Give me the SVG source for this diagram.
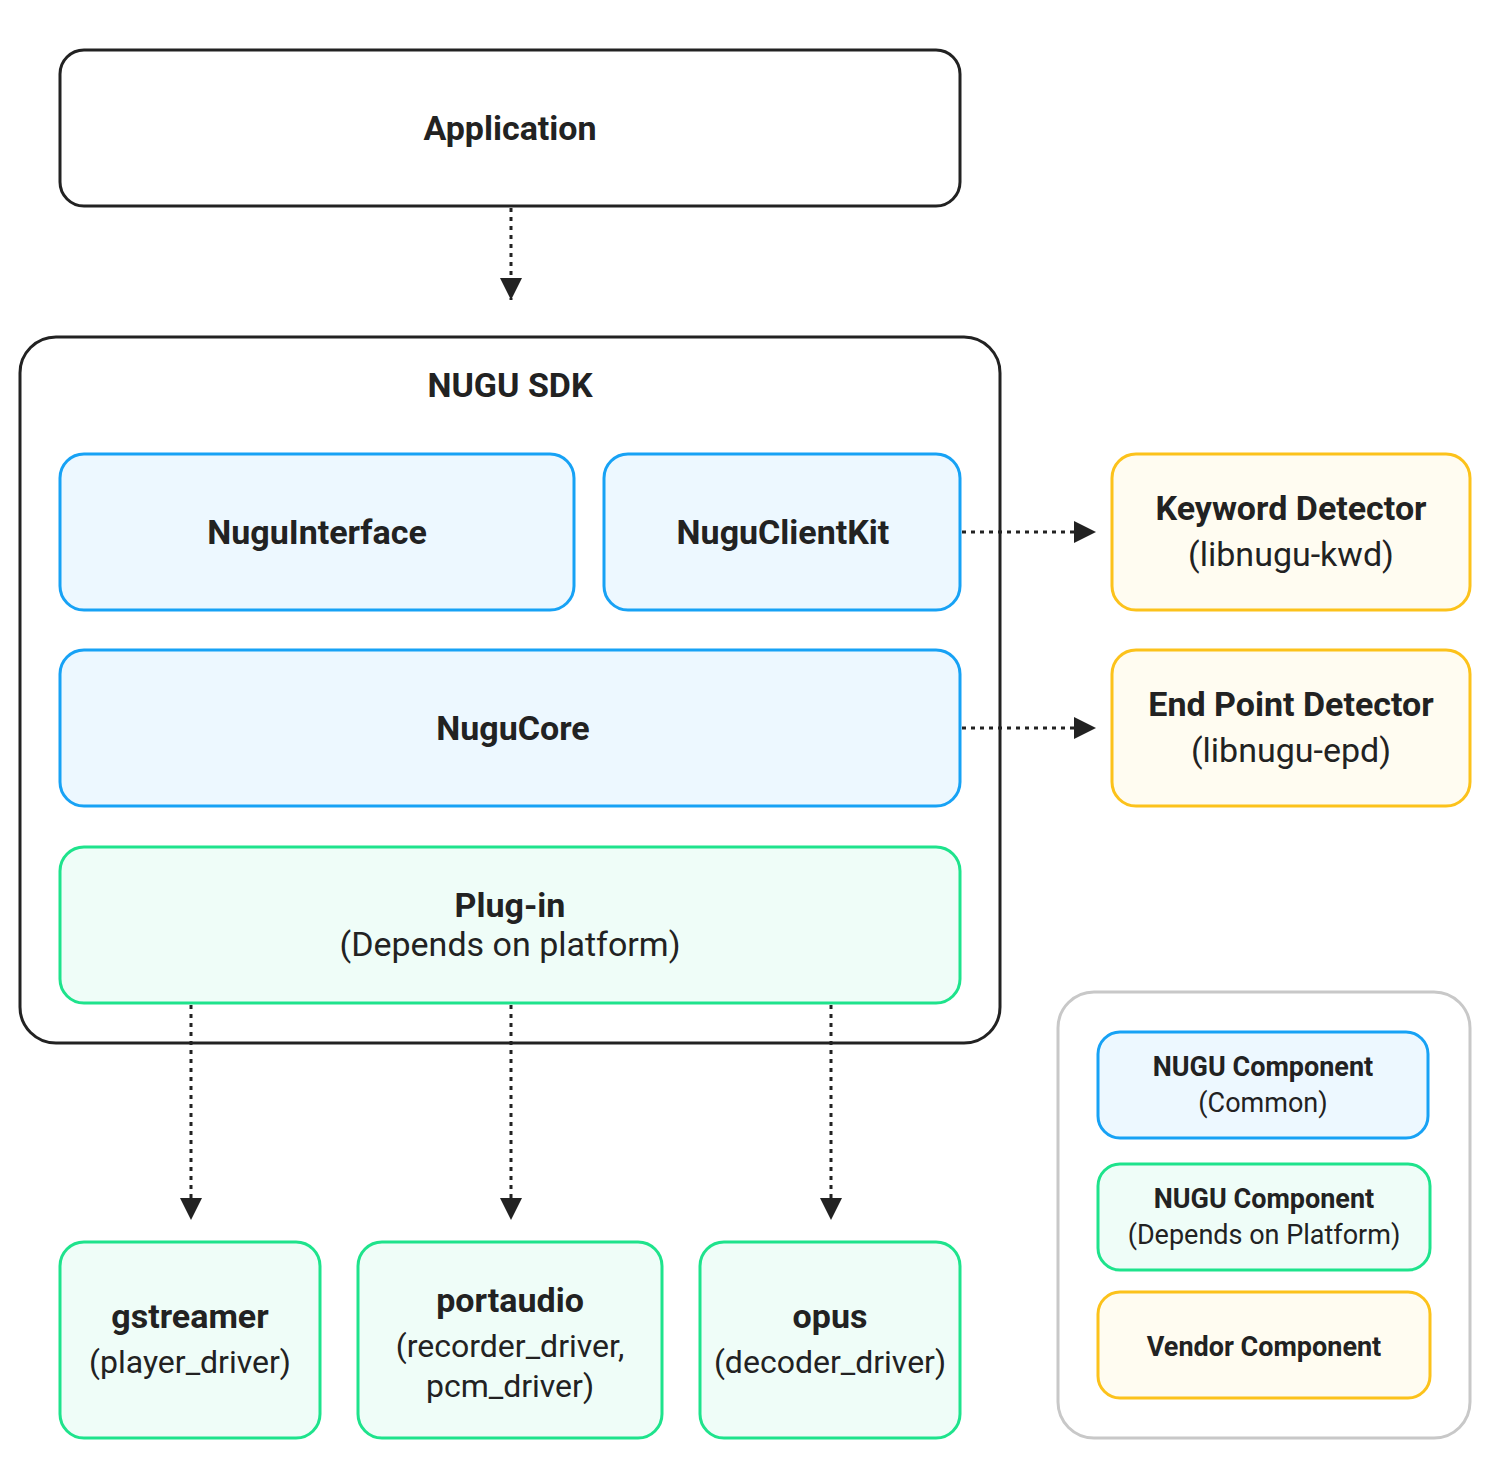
<svg xmlns="http://www.w3.org/2000/svg" width="1500" height="1468" viewBox="0 0 1500 1468">
<style>
text{font-family:Roboto,"Liberation Sans",sans-serif;fill:#222;text-anchor:middle}
.b{font-weight:bold;font-size:34px}
.r{font-size:34px}
.rs{font-size:32px}
.lb{font-weight:bold;font-size:27px}
.lr{font-size:27px}
.plain{fill:#fff;stroke:#222;stroke-width:3}
.blue{fill:#edf8ff;stroke:#17a2f5;stroke-width:3}
.green{fill:#effdf8;stroke:#1ee38c;stroke-width:3}
.yellow{fill:#fffcf1;stroke:#fcc21b;stroke-width:3}
.conn{stroke:#222;stroke-width:3;stroke-dasharray:4 5;fill:none}
</style>
<defs>
<marker id="ah" viewBox="0 0 10 10" refX="10" refY="5" markerWidth="22" markerHeight="22" markerUnits="userSpaceOnUse" orient="auto">
<path d="M0,0 L10,5 L0,10 Z" fill="#222"/>
</marker>
</defs>
<rect width="1500" height="1468" fill="#fff"/>
<g id="sdk">
<rect class="plain" x="20" y="337" width="980" height="706" rx="36"/>
<text class="b" x="510" y="397">NUGU SDK</text>
</g>
<g id="application">
<rect class="plain" x="60" y="50" width="900" height="156" rx="24"/>
<text class="b" x="510" y="140">Application</text>
</g>
<g id="nuguinterface">
<rect class="blue" x="60" y="454" width="514" height="156" rx="24"/>
<text class="b" x="317" y="544">NuguInterface</text>
</g>
<g id="nuguclientkit">
<rect class="blue" x="604" y="454" width="356" height="156" rx="24"/>
<text class="b" x="783" y="544">NuguClientKit</text>
</g>
<g id="nugucore">
<rect class="blue" x="60" y="650" width="900" height="156" rx="24"/>
<text class="b" x="513" y="740">NuguCore</text>
</g>
<g id="plugin">
<rect class="green" x="60" y="847" width="900" height="156" rx="24"/>
<text class="b" x="510" y="917">Plug-in</text>
<text class="r" x="510" y="956">(Depends on platform)</text>
</g>
<g id="kwd">
<rect class="yellow" x="1112" y="454" width="358" height="156" rx="24"/>
<text class="b" x="1291" y="520">Keyword Detector</text>
<text class="r" x="1291" y="566">(libnugu-kwd)</text>
</g>
<g id="epd">
<rect class="yellow" x="1112" y="650" width="358" height="156" rx="24"/>
<text class="b" x="1291" y="716">End Point Detector</text>
<text class="r" x="1291" y="762">(libnugu-epd)</text>
</g>
<g id="gstreamer">
<rect class="green" x="60" y="1242" width="260" height="196" rx="24"/>
<text class="b" x="190" y="1328">gstreamer</text>
<text class="rs" x="190" y="1373">(player_driver)</text>
</g>
<g id="portaudio">
<rect class="green" x="358" y="1242" width="304" height="196" rx="24"/>
<text class="b" x="510" y="1312">portaudio</text>
<text class="rs" x="510" y="1357">(recorder_driver,</text>
<text class="rs" x="510" y="1397">pcm_driver)</text>
</g>
<g id="opus">
<rect class="green" x="700" y="1242" width="260" height="196" rx="24"/>
<text class="b" x="830" y="1328">opus</text>
<text class="rs" x="830" y="1373">(decoder_driver)</text>
</g>
<g id="legend">
<rect x="1058" y="992" width="412" height="446" rx="36" fill="#fff" stroke="#c8c8c8" stroke-width="3"/>
<rect class="blue" x="1098" y="1032" width="330" height="106" rx="22"/>
<text class="lb" x="1263" y="1076">NUGU Component</text>
<text class="lr" x="1263" y="1112">(Common)</text>
<rect class="green" x="1098" y="1164" width="332" height="106" rx="22"/>
<text class="lb" x="1264" y="1208">NUGU Component</text>
<text class="lr" x="1264" y="1244">(Depends on Platform)</text>
<rect class="yellow" x="1098" y="1292" width="332" height="106" rx="22"/>
<text class="lb" x="1264" y="1356">Vendor Component</text>
</g>
<g id="connectors">
<line class="conn" x1="511" y1="208" x2="511" y2="300" marker-end="url(#ah)"/>
<line class="conn" x1="962" y1="532" x2="1096" y2="532" marker-end="url(#ah)"/>
<line class="conn" x1="962" y1="728" x2="1096" y2="728" marker-end="url(#ah)"/>
<line class="conn" x1="191" y1="1005" x2="191" y2="1220" marker-end="url(#ah)"/>
<line class="conn" x1="511" y1="1005" x2="511" y2="1220" marker-end="url(#ah)"/>
<line class="conn" x1="831" y1="1005" x2="831" y2="1220" marker-end="url(#ah)"/>
</g>
</svg>
